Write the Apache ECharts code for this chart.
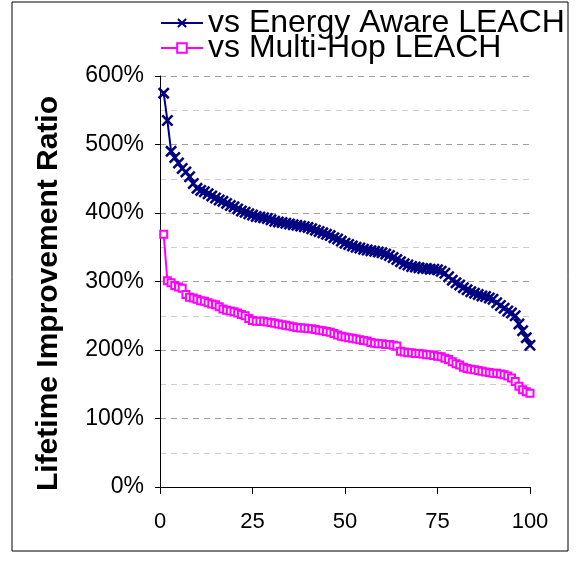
<!doctype html>
<html>
<head>
	<meta charset="UTF-8">
	<title>Lifetime Improvement Ratio</title>
	<script src="https://cdn.jsdelivr.net/npm/echarts@6/dist/echarts.min.js"></script>
	<style>
		html, body {
			margin: 0;
			padding: 0;
			background: #fff;
		}
		#chart {
			width: 579px;
			height: 561px;
		}
	</style>
</head>
<body>
<div id="chart"></div>
<script>
	// values in %, node index 1..100
	var energyAware = [
		575, 535, 490, 481, 473, 465, 460, 453, 443, 436,
		433, 431, 428, 425, 422, 419, 417, 414, 411, 409,
		406, 403, 401, 399, 397, 395, 394, 393, 392, 390,
		388, 387, 386, 385, 384, 383, 382, 381, 380, 379,
		377, 375, 373, 371, 369, 367, 364, 362, 359, 356,
		354, 352, 350, 349, 347, 346, 345, 344, 343, 342,
		340, 338, 335, 332, 329, 326, 324, 322, 321, 320,
		319, 319, 318, 318, 317, 315, 312, 307, 302, 298,
		295, 291, 288, 285, 283, 281, 279, 278, 276, 274,
		269, 265, 261, 257, 254, 250, 238, 228, 218, 207
	];
	var multiHop = [
		369, 301, 298, 294, 292, 290, 281, 277, 276, 274,
		272, 271, 269, 267, 266, 263, 260, 258, 257, 256,
		254, 252, 250, 246, 243, 242, 242, 242, 241, 240,
		239, 238, 237, 236, 235, 234, 233, 232, 232, 231,
		231, 230, 229, 228, 227, 226, 224, 222, 220, 219,
		218, 217, 216, 215, 214, 213, 211, 210, 209, 209,
		208, 208, 207, 206, 198, 197, 196, 196, 195, 195,
		194, 193, 193, 192, 191, 190, 188, 186, 183, 180,
		178, 175, 173, 172, 171, 170, 169, 168, 167, 166,
		166, 165, 164, 162, 159, 154, 147, 142, 139, 137
	];
	var seriesNames = ["vs Energy Aware LEACH", "vs Multi-Hop LEACH"];
	var xTicks = [0, 100, 25];   // min, max, step
	var yTicks = [0, 600, 100];

	function pairs(arr) {
		var out = [];
		for (var i = 0; i < arr.length; i++) out.push([i + 1, arr[i]]);
		return out;
	}

	var crossPath = "path://M0,1.5L1.5,0L5,3.5L8.5,0L10,1.5L6.5,5L10,8.5L8.5,10L5,6.5L1.5,10L0,8.5L3.5,5Z";
	var font = "Arial, 'Liberation Sans', sans-serif";

	var chart = echarts.init(document.getElementById("chart"));
	chart.setOption({
		animation: false,
		textStyle: {fontFamily: font},
		graphic: [{
			type: "rect",
			shape: {x: 12, y: 2, width: 556, height: 549},
			style: {fill: "none", stroke: "#000", lineWidth: 1},
			silent: true
		}],
		legend: {
			orient: "vertical",
			left: 160,
			top: 7,
			padding: 0,
			itemGap: -7,
			itemWidth: 42,
			itemHeight: 12,
			textStyle: {fontSize: 32, color: "#000", fontFamily: font, padding: [0, 0, 0, 0]},
			data: seriesNames
		},
		grid: {left: 160, right: 49, top: 76, bottom: 74},
		xAxis: {
			type: "value",
			min: xTicks[0],
			max: xTicks[1],
			interval: xTicks[2],
			axisLine: {lineStyle: {color: "#000", width: 1}},
			axisTick: {show: true, length: 7, lineStyle: {color: "#000"}},
			axisLabel: {fontSize: 22, color: "#000", margin: 24},
			splitLine: {show: false}
		},
		yAxis: {
			type: "value",
			min: yTicks[0],
			max: yTicks[1],
			interval: yTicks[2],
			name: "Lifetime Improvement Ratio",
			nameLocation: "middle",
			nameGap: 96,
			nameTextStyle: {fontSize: 30, fontWeight: "bold", color: "#000", padding: [0, 24, 0, 0]},
			axisLine: {show: true, lineStyle: {color: "#000", width: 1}},
			axisTick: {show: true, length: 5, lineStyle: {color: "#000"}},
			axisLabel: {fontSize: 23, color: "#000", margin: 16, formatter: "{value}%"},
			splitLine: {show: true, lineStyle: {color: "#a0a0a0", type: [6, 5]}},
			minorTick: {show: false, splitNumber: 2},
			minorSplitLine: {show: true, lineStyle: {color: "#cccccc", type: [6, 5]}}
		},
		series: [{
			name: seriesNames[0],
			type: "line",
			data: pairs(energyAware),
			symbol: crossPath,
			symbolSize: 12,
			showAllSymbol: true,
			lineStyle: {color: "#000080", width: 2},
			itemStyle: {color: "#000080"},
			z: 3
		}, {
			name: seriesNames[1],
			type: "line",
			data: pairs(multiHop),
			symbol: "emptyRect",
			symbolSize: 7,
			showAllSymbol: true,
			lineStyle: {color: "#ff00ff", width: 2},
			itemStyle: {color: "#ff00ff", borderWidth: 1.5},
			z: 2
		}]
	});
</script>
</body>
</html>
